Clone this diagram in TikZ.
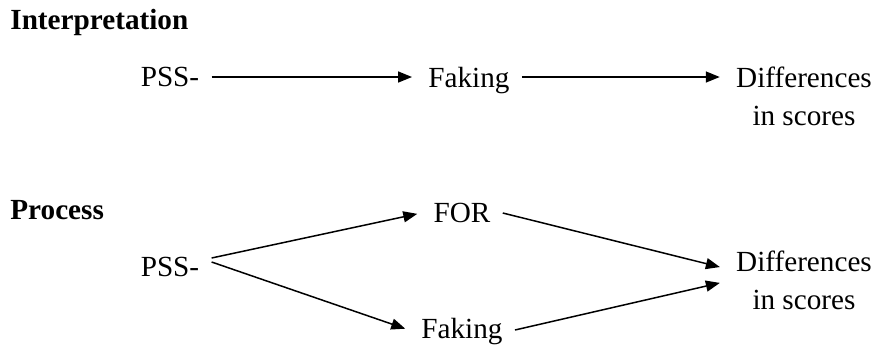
\documentclass[tikz,border=0pt]{standalone}
\usepackage{fontspec}
\setmainfont{Liberation Serif}
\usetikzlibrary{arrows.meta}

\tikzset{
    lbl/.style={inner sep=6pt, font=\fontsize{14.6}{19}\selectfont},
    hdr/.style={inner sep=0pt, anchor=west, font=\fontsize{14.6}{19}\selectfont\bfseries},
    arr/.style={-{Triangle[length=7pt, width=5.5pt]}, line width=0.75pt, shorten >=2pt}
}

\begin{document}
\begin{tikzpicture}[x=0.5pt, y=-0.5pt]
    \useasboundingbox (0,0) rectangle (875,350);

    % headings
    \node[hdr] (interp) at (10,22) {Interpretation};
    \node[hdr] (proc) at (10,210) {Process};

    % interpretation row
    \node[lbl] (pssA) at (170,77) {PSS-};
    \node[lbl] (fakA) at (469,81) {Faking};
    \node[lbl, align=center] (diffA) at (804,96) {Differences\\in scores};

    \draw[arr] (pssA.east) -- (pssA.east -| fakA.west);
    \draw[arr] (pssA.east -| fakA.east) -- (pssA.east -| diffA.west);

    % process diagram
    \node[lbl] (pssB) at (170,267) {PSS-};
    \node[lbl] (forB) at (462,213) {FOR};
    \node[lbl] (fakB) at (462,332) {Faking};
    \node[lbl, align=center] (diffB) at (804,280) {Differences\\in scores};

    \draw[arr] ([yshift=4.5pt]pssB.east) -- (forB.west);
    \draw[arr] ([yshift=2.5pt]pssB.east) -- ([yshift=1pt]fakB.west);
    \draw[arr] (forB.east) -- ([yshift=6pt]diffB.west);
    \draw[arr] ([yshift=1pt]fakB.east) -- ([yshift=-1pt]diffB.west);
\end{tikzpicture}
\end{document}
